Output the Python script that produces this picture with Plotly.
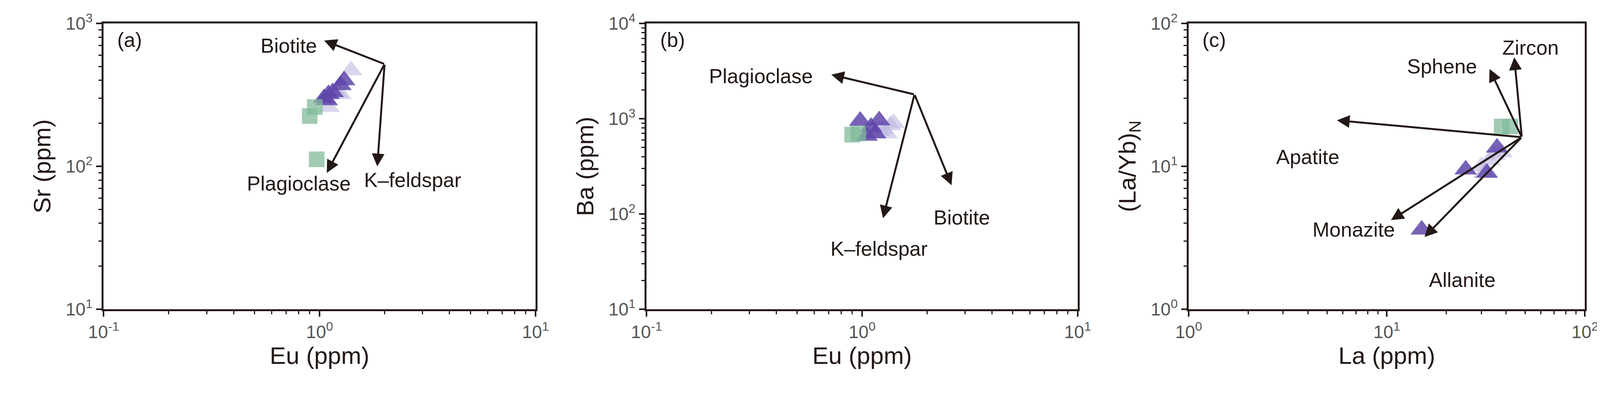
import numpy as np
import plotly.graph_objects as go

# panel (a) Eu vs Sr
a_sq_x = [0.90, 0.95, 0.97]
a_sq_y = [225, 260, 112]
a_dk_x = [1.05, 1.08, 1.10, 1.25, 1.30, 1.15]
a_dk_y = [300, 290, 320, 370, 400, 330]
a_lt_x = [1.40, 1.20, 1.10, 1.25]
a_lt_y = [470, 330, 260, 320]

# panel (b) Eu vs Ba
b_sq_x = [0.90, 0.96]
b_sq_y = [680, 700]
b_dk_x = [0.98, 1.05, 1.20, 1.10, 1.15]
b_dk_y = [950, 660, 960, 820, 700]
b_lt_x = [1.25, 1.35, 1.40, 1.30, 1.20]
b_lt_y = [780, 850, 900, 700, 740]

# panel (c) La vs (La/Yb)N
c_sq_x = [38, 42]
c_sq_y = [19, 19]
c_dk_x = [15, 25, 36, 32]
c_dk_y = [3.6, 9.5, 13.5, 9.0]
c_lt_x = [30, 33, 35, 38, 31]
c_lt_y = [10, 11, 12, 12.5, 9]

# vectors: origin, heads, labels
a_origin = (2.0, 520)
a_heads = {"Biotite": (1.05, 760), "Plagioclase": (1.08, 90), "K\u2013feldspar": (1.85, 100)}
a_labels = {"Biotite": (0.72, 700), "Plagioclase": (0.8, 76), "K\u2013feldspar": (2.7, 80)}

b_origin = (1.75, 1800)
b_heads = {"Plagioclase": (0.72, 2900), "K\u2013feldspar": (1.25, 90), "Biotite": (2.6, 200)}
b_labels = {"Plagioclase": (0.34, 2800), "K\u2013feldspar": (1.2, 43), "Biotite": (2.9, 92)}

c_origin = (48, 16)
c_heads = {"Zircon": (44, 58), "Sphene": (33, 48), "Apatite": (5.6, 21),
           "Monazite": (10.5, 4.2), "Allanite": (15.5, 3.2)}
c_labels = {"Zircon": (53, 68), "Sphene": (19, 50), "Apatite": (4.0, 11.6),
            "Monazite": (6.8, 3.6), "Allanite": (24, 1.6)}

DK = "rgba(95,70,170,0.85)"
LT = "rgba(190,185,225,0.6)"
SQ = "rgba(130,185,155,0.75)"
FONT = "Liberation Sans, Arial, sans-serif"
INK = "#231815"

fig = go.Figure()
panels = [
    ("x", "y", a_sq_x, a_sq_y, a_dk_x, a_dk_y, a_lt_x, a_lt_y),
    ("x2", "y2", b_sq_x, b_sq_y, b_dk_x, b_dk_y, b_lt_x, b_lt_y),
    ("x3", "y3", c_sq_x, c_sq_y, c_dk_x, c_dk_y, c_lt_x, c_lt_y),
]
for xa, ya, sx, sy, dx, dy, lx, ly in panels:
    fig.add_trace(go.Scatter(x=lx, y=ly, mode="markers", xaxis=xa, yaxis=ya,
                             marker=dict(symbol="triangle-up", size=50, color=LT, line_width=0)))
    fig.add_trace(go.Scatter(x=dx, y=dy, mode="markers", xaxis=xa, yaxis=ya,
                             marker=dict(symbol="triangle-up", size=50, color=DK, line_width=0)))
    fig.add_trace(go.Scatter(x=sx, y=sy, mode="markers", xaxis=xa, yaxis=ya,
                             marker=dict(symbol="square", size=40, color=SQ, line_width=0)))

ann = []
for xa, ya, origin, heads, labels in [("x", "y", a_origin, a_heads, a_labels),
                                      ("x2", "y2", b_origin, b_heads, b_labels),
                                      ("x3", "y3", c_origin, c_heads, c_labels)]:
    for name, (hx, hy) in heads.items():
        ann.append(dict(x=np.log10(hx), y=np.log10(hy), ax=np.log10(origin[0]), ay=np.log10(origin[1]),
                        xref=xa, yref=ya, axref=xa, ayref=ya, text="", showarrow=True,
                        arrowhead=2, arrowsize=1.3, arrowwidth=5, arrowcolor=INK))
        tx, ty = labels[name]
        ann.append(dict(x=np.log10(tx), y=np.log10(ty), xref=xa, yref=ya, text=name,
                        showarrow=False, font=dict(size=52, color=INK, family=FONT)))

dom_x = [[0.062, 0.3285], [0.397, 0.663], [0.7315, 0.976]]
for i, lab in enumerate(["(a)", "(b)", "(c)"]):
    ann.append(dict(x=dom_x[i][0] + 0.008, y=0.94, xref="paper", yref="paper", text=lab,
                    showarrow=False, xanchor="left", yanchor="top",
                    font=dict(size=52, color=INK, family=FONT)))

def sup(n):
    return "10<sup>%d</sup>" % n

axis_common = dict(type="log", showgrid=False, zeroline=False, showline=True, mirror=True,
                   linecolor=INK, linewidth=5, ticks="outside", ticklen=14, tickwidth=4,
                   tickcolor=INK, tickfont=dict(size=46, color="#555", family=FONT),
                   automargin=False, title_font=dict(size=62, color=INK, family=FONT))

xr = [(-1, 1), (-1, 1), (0, 2)]
yr = [(1, 3), (1, 4), (0, 2)]
xt = ["Eu (ppm)", "Eu (ppm)", "La (ppm)"]
yt = ["Sr (ppm)", "Ba (ppm)", "(La/Yb)<sub>N</sub>"]
lay = {}
for i in range(3):
    s = "" if i == 0 else str(i + 1)
    xv = list(range(xr[i][0], xr[i][1] + 1))
    yv = list(range(yr[i][0], yr[i][1] + 1))
    xminor = [m * 10 ** v for v in xv[:-1] for m in range(2, 10)]
    yminor = [m * 10 ** v for v in yv[:-1] for m in range(2, 10)]
    lay["xaxis" + s] = dict(axis_common, domain=dom_x[i], range=list(xr[i]), anchor="y" + s,
                            tickvals=[10 ** v for v in xv], ticktext=[sup(v) for v in xv],
                            minor=dict(tickvals=xminor, ticks="outside", ticklen=8, tickwidth=3, tickcolor=INK),
                            title_text=xt[i], title_standoff=8)
    lay["yaxis" + s] = dict(axis_common, domain=[0.25, 0.95], range=list(yr[i]), anchor="x" + s,
                            tickvals=[10 ** v for v in yv], ticktext=[sup(v) for v in yv],
                            minor=dict(tickvals=yminor, ticks="outside", ticklen=8, tickwidth=3, tickcolor=INK),
                            title_text=yt[i], title_standoff=20)

fig.update_layout(width=4149, height=1045, showlegend=False, plot_bgcolor="white",
                  paper_bgcolor="white", margin=dict(l=0, r=0, t=0, b=0),
                  annotations=ann, **lay)
fig.write_html("out.html")
